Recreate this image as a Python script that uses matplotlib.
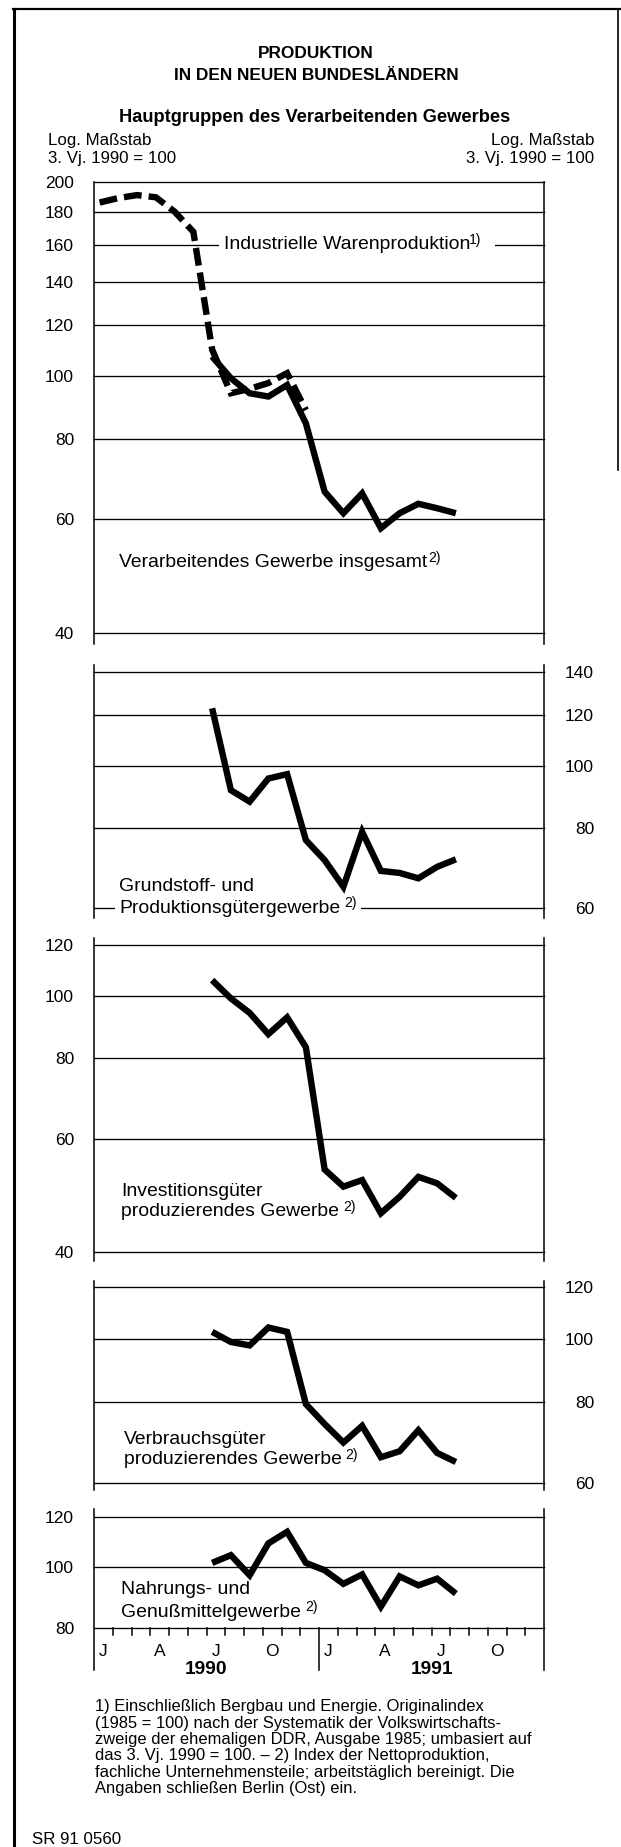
import matplotlib
matplotlib.use("Agg")
import matplotlib.pyplot as plt
from matplotlib.ticker import NullLocator, FixedLocator, NullFormatter
from matplotlib.transforms import blended_transform_factory
from matplotlib.patches import Rectangle
from matplotlib.lines import Line2D

plt.rcParams['font.family'] = ['Liberation Sans', 'DejaVu Sans']

# ---------------- data ----------------
# month index: 0 = January 1990
monate_waren = [0, 1, 2, 3, 4, 5, 6, 7, 8, 9, 10, 11]
industrielle_warenproduktion = [186, 189, 191, 189.5, 180, 167.5, 110, 94.1, 95.6, 97.6, 101.1, 88.6]

monate_gruppen = [6, 7, 8, 9, 10, 11, 12, 13, 14, 15, 16, 17, 18, 19]
verarbeitendes_gewerbe = [107.3, 99.3, 94.1, 93.0, 96.9, 84.5, 66.2, 61.3, 65.8, 58.1, 61.3, 63.4, 62.4, 61.3]
grundstoff_produktionsgueter = [122.8, 91.6, 87.9, 95.5, 97.0, 76.6, 71.3, 64.8, 78.9, 68.6, 68.1, 66.8, 69.6, 71.5]
investitionsgueter = [105.8, 99.1, 94.1, 87.2, 92.6, 83.2, 53.7, 50.5, 51.7, 45.9, 48.7, 52.3, 51.1, 48.5]
verbrauchsgueter = [102.5, 98.9, 97.7, 104.1, 102.5, 79.4, 74.0, 69.3, 73.5, 65.8, 67.2, 72.4, 66.8, 64.7]
nahrung_genussmittel = [101.6, 104.5, 97.1, 109.1, 113.8, 101.6, 98.9, 94.1, 97.4, 86.6, 96.7, 93.6, 95.9, 90.8]

ticks_p1 = [40, 60, 80, 100, 120, 140, 160, 180, 200]
ticks_p2 = [60, 80, 100, 120, 140]
ticks_p3 = [40, 60, 80, 100, 120]
ticks_p4 = [60, 80, 100, 120]
ticks_p5 = [80, 100, 120]

quartal_labels = ["J", "A", "J", "O"]
jahre = ["1990", "1991"]

titel = ["PRODUKTION", "IN DEN NEUEN BUNDESLÄNDERN"]
untertitel = "Hauptgruppen des Verarbeitenden Gewerbes"
achsen_text = ["Log. Maßstab", "3. Vj. 1990 = 100"]

fussnote = [
    "1) Einschließlich Bergbau und Energie. Originalindex",
    "(1985 = 100) nach der Systematik der Volkswirtschafts-",
    "zweige der ehemaligen DDR, Ausgabe 1985; umbasiert auf",
    "das 3. Vj. 1990 = 100. – 2) Index der Nettoproduktion,",
    "fachliche Unternehmensteile; arbeitstäglich bereinigt. Die",
    "Angaben schließen Berlin (Ost) ein.",
]
kennung = "SR 91 0560"

# ---------------- layout ----------------
W, H, DPI = 621, 1847, 100
fig = plt.figure(figsize=(W / DPI, H / DPI), dpi=DPI)
fig.patch.set_facecolor('white')
R = fig.canvas.get_renderer()


def fx(x):
    return x / W


def fy(y):
    return 1 - y / H


def fit(t, width):
    bb = t.get_window_extent(R)
    t.set_fontsize(t.get_fontsize() * width / bb.width)
    return t


X0, X1 = 94, 544
X_OFF = 0.3
LW = 4.6
GRID_LW = 0.95
SPINE_LW = 1.1

# tick label size
_d = fig.text(0, 0, "200", fontsize=12)
fit(_d, 29)
TICK_FS = _d.get_fontsize()
_d.remove()


def panel(top, bot, lo, hi, ticks, side, ext_top, ext_bot):
    ax = fig.add_axes([fx(X0), fy(bot), (X1 - X0) / W, (bot - top) / H])
    ax.set_facecolor('none')
    ax.set_xlim(0, 24)
    ax.set_yscale('log')
    ax.set_ylim(lo, hi)
    for s in ax.spines.values():
        s.set_visible(False)
    ax.set_xticks([])
    ax.yaxis.set_major_locator(FixedLocator(ticks))
    ax.yaxis.set_minor_locator(NullLocator())
    ax.yaxis.set_minor_formatter(NullFormatter())
    ax.set_yticklabels([str(t) for t in ticks])
    if side == 'right':
        ax.yaxis.tick_right()
        ax.tick_params(axis='y', length=0, pad=50 * 72 / DPI, labelsize=TICK_FS)
        for lb in ax.get_yticklabels():
            lb.set_ha('right')
    else:
        ax.tick_params(axis='y', length=0, pad=20 * 72 / DPI, labelsize=TICK_FS)
    for t in ticks:
        ax.axhline(t, color='black', lw=GRID_LW, zorder=1, clip_on=False)
    axh = bot - top
    for xx in (0, 1):
        ax.add_line(Line2D([xx, xx], [-ext_bot / axh, 1 + ext_top / axh], transform=ax.transAxes,
                           color='black', lw=SPINE_LW, clip_on=False))
    return ax, axh


def series(ax, months, vals, dashed=False):
    xs = [m + X_OFF for m in months]
    if dashed:
        ax.plot(xs, vals, color='black', lw=LW, linestyle=(0, (2.8, 1.1)),
                dash_capstyle='butt', dash_joinstyle='miter', zorder=3, clip_on=False)
    else:
        ax.plot(xs, vals, color='black', lw=LW, solid_joinstyle='miter',
                solid_capstyle='butt', zorder=4, clip_on=False)


ax1, h1 = panel(182.2, 632.7, 40, 200, ticks_p1, 'left', 0, 11)
series(ax1, monate_waren, industrielle_warenproduktion, dashed=True)
series(ax1, monate_gruppen, verarbeitendes_gewerbe)

ax2, h2 = panel(671.7, 908.3, 60, 140, ticks_p2, 'right', 7, 10)
series(ax2, monate_gruppen, grundstoff_produktionsgueter)

ax3, h3 = panel(945, 1251.7, 40, 120, ticks_p3, 'left', 7, 9)
series(ax3, monate_gruppen, investitionsgueter)

ax4, h4 = panel(1287.3, 1483.3, 60, 120, ticks_p4, 'right', 6, 7)
series(ax4, monate_gruppen, verbrauchsgueter)

ax5, h5 = panel(1517.3, 1628.3, 80, 120, ticks_p5, 'left', 8, 42)
series(ax5, monate_gruppen, nahrung_genussmittel)

# x axis on bottom panel
trb = blended_transform_factory(ax5.transData, ax5.transAxes)
for m in range(1, 24):
    if m == 12:
        ax5.add_line(Line2D([m, m], [0, -42 / h5], transform=trb, color='black', lw=SPINE_LW, clip_on=False))
    else:
        ax5.add_line(Line2D([m, m], [0, -7 / h5], transform=trb, color='black', lw=SPINE_LW, clip_on=False))
for yi, jahr in enumerate(jahre):
    for qi, lab in enumerate(quartal_labels):
        ax5.text(12 * yi + 3 * qi + 0.5, -(1652 - 1628.3) / h5, lab, transform=trb,
                 ha='center', va='center', fontsize=TICK_FS)
    ty = ax5.text(12 * yi + 6, -(1669 - 1628.3) / h5, jahr, transform=trb,
                  ha='center', va='center', fontsize=13, weight='bold')
    fit(ty, 42.5)

# ---------------- frame ----------------
fig.add_artist(Line2D([fx(14), fx(14)], [fy(9), fy(H)], transform=fig.transFigure, color='black', lw=2.2))
fig.add_artist(Line2D([fx(13), fx(621)], [fy(9), fy(9)], transform=fig.transFigure, color='black', lw=1.6))
fig.add_artist(Line2D([fx(618), fx(618)], [fy(9), fy(470)], transform=fig.transFigure, color='black', lw=1.2))

# ---------------- titles ----------------
t2 = fig.text(fx(316), fy(76), titel[1], ha='center', va='center', fontsize=13, weight='bold')
fit(t2, 285)
t1 = fig.text(fx(316), fy(53), titel[0], ha='center', va='center', fontsize=t2.get_fontsize(), weight='bold')
st = fig.text(fx(315), fy(118), untertitel, ha='center', va='center', fontsize=12, weight='bold')
fit(st, 390)

a2 = fig.text(fx(47.5), fy(158), achsen_text[1], ha='left', va='center', fontsize=12)
fit(a2, 128.5)
AFS = a2.get_fontsize()
fig.text(fx(47.5), fy(140), achsen_text[0], ha='left', va='center', fontsize=AFS)
fig.text(fx(594), fy(140), achsen_text[0], ha='right', va='center', fontsize=AFS)
fig.text(fx(594), fy(158), achsen_text[1], ha='right', va='center', fontsize=AFS)

# ---------------- series labels ----------------
_d = fig.text(0, 0, "Verarbeitendes Gewerbe insgesamt", fontsize=12)
fit(_d, 309)
LFS = _d.get_fontsize()
_d.remove()
SFS = LFS * 0.72


def label(x, y, s, sup=None, gap=3, white=False, padl=4, padr=4):
    t = fig.text(fx(x), fy(y), s, ha='left', va='center', fontsize=LFS, zorder=3)
    bb = t.get_window_extent(R)
    xr = bb.x1
    if sup:
        ts = fig.text((bb.x1 + gap) / W, fy(y - 5), sup, ha='left', va='center', fontsize=SFS, zorder=3)
        xr = ts.get_window_extent(R).x1
    if white:
        x0 = bb.x0 - padl
        fig.add_artist(Rectangle((x0 / W, fy(y + 6)), (xr + padr - x0) / W, 12 / H,
                                 transform=fig.transFigure, facecolor='white', edgecolor='none', zorder=2.5))
    return t


label(224, 244.7, "Industrielle Warenproduktion", "1)", gap=-2, white=True, padl=5, padr=14)
label(119, 563, "Verarbeitendes Gewerbe insgesamt", "2)", gap=1)
label(119, 887, "Grundstoff- und")
label(119, 908.3, "Produktionsgütergewerbe", "2)", gap=4, white=True, padl=4, padr=4)
label(121, 1191.5, "Investitionsgüter")
label(121, 1211.5, "produzierendes Gewerbe", "2)", gap=4)
label(123.5, 1440, "Verbrauchsgüter")
label(123.5, 1460, "produzierendes Gewerbe", "2)", gap=4)
label(121, 1589, "Nahrungs- und")
label(121, 1612.5, "Genußmittelgewerbe", "2)", gap=4)

# ---------------- footnote ----------------
fts = []
for i, line in enumerate(fussnote):
    fts.append(fig.text(fx(95), fy(1706.7 + 16.4 * i), line, ha='left', va='center', fontsize=10))
fit(fts[2], 434)
for t in fts:
    t.set_fontsize(fts[2].get_fontsize())

k = fig.text(fx(32), fy(1840), kennung, ha='left', va='center', fontsize=11)
fit(k, 89)

fig.savefig("out.png", dpi=DPI, facecolor='white')
